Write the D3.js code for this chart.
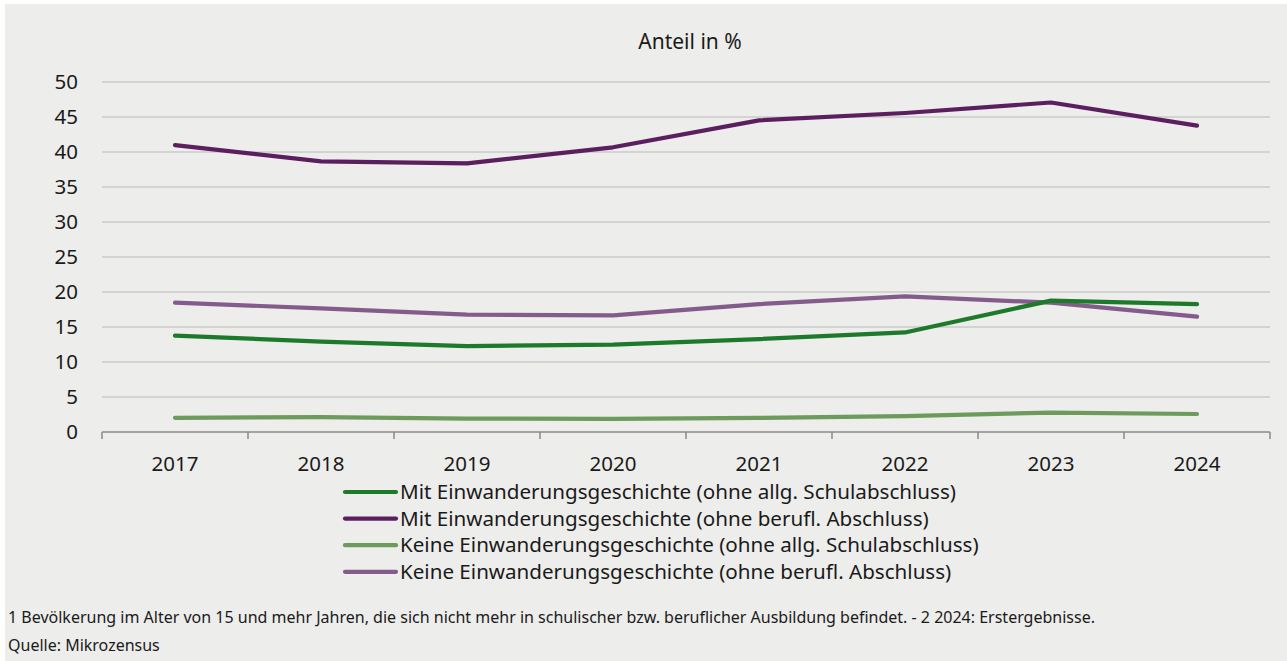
<!DOCTYPE html>
<html>
<head>
<meta charset="utf-8">
<script src="https://cdn.jsdelivr.net/npm/d3@7"></script>
<style>
    body { margin: 0; background: #ffffff; }
    svg { display: block; font-family: 'Noto Sans', sans-serif; }
</style>
</head>
<body>
<svg class="main" width="1287" height="661"></svg>
<script>
const years = ['2017', '2018', '2019', '2020', '2021', '2022', '2023', '2024'];
const yTicks = [0, 5, 10, 15, 20, 25, 30, 35, 40, 45, 50];

const mitAllg = [13.7, 12.85, 12.2, 12.4, 13.2, 14.15, 18.7, 18.2];
const mitBerufl = [40.9, 38.6, 38.3, 40.6, 44.45, 45.5, 47.0, 43.7];
const keineAllg = [1.95, 2.05, 1.85, 1.8, 1.95, 2.2, 2.7, 2.5];
const keineBerufl = [18.4, 17.6, 16.7, 16.6, 18.2, 19.3, 18.4, 16.4];

const seriesNames = [
    'Mit Einwanderungsgeschichte (ohne allg. Schulabschluss)',
    'Mit Einwanderungsgeschichte (ohne berufl. Abschluss)',
    'Keine Einwanderungsgeschichte (ohne allg. Schulabschluss)',
    'Keine Einwanderungsgeschichte (ohne berufl. Abschluss)'
];
const seriesColors = ['#1d7a2b', '#5b1f5f', '#6d9b5c', '#845c8c'];

const title = 'Anteil in %';
const footnote = '1 Bevölkerung im Alter von 15 und mehr Jahren, die sich nicht mehr in schulischer bzw. beruflicher Ausbildung befindet. - 2 2024: Erstergebnisse.';
const source = 'Quelle: Mikrozensus';

const series = [mitAllg, mitBerufl, keineAllg, keineBerufl].map((values, i) => ({
    name: seriesNames[i],
    color: seriesColors[i],
    values: values.map((v, j) => ({ year: years[j], amount: v }))
}));

const svg = d3.select('svg.main'),
    margin = { top: 81.5, left: 102, right: 17, bottom: 229.5 },
    width = 1287 - margin.left - margin.right,
    height = 661 - margin.top - margin.bottom;

// panel background
svg.append('rect')
    .attr('x', 5)
    .attr('y', 4)
    .attr('width', 1282)
    .attr('height', 657)
    .attr('fill', '#ededeb');

const x = d3.scaleBand().domain(years).range([0, width]),
    y = d3.scaleLinear().domain([0, 50]).range([height, 0]);

const chart = svg.append('g')
    .attr('transform', 'translate(' + margin.left + ',' + margin.top + ')');

// gridlines
chart.append('g')
    .selectAll('line')
    .data(yTicks.filter(t => t > 0))
    .enter()
    .append('line')
    .attr('x1', 0)
    .attr('x2', width)
    .attr('y1', d => Math.round(y(d)) + 0.5)
    .attr('y2', d => Math.round(y(d)) + 0.5)
    .attr('stroke', '#b9b9b9')
    .attr('stroke-width', 1.2);

// y labels
chart.append('g')
    .selectAll('text')
    .data(yTicks)
    .enter()
    .append('text')
    .text(d => d)
    .attr('x', -24)
    .attr('y', d => y(d))
    .attr('dy', '0.35em')
    .attr('text-anchor', 'end')
    .attr('font-size', 20.5)
    .attr('fill', '#1a1a1a');

// x axis
const xAxis = chart.append('g')
    .attr('transform', 'translate(0,' + (Math.round(height) + 0.5) + ')');

xAxis.append('line')
    .attr('x1', 0)
    .attr('x2', width)
    .attr('stroke', '#8a8a8a')
    .attr('stroke-width', 1.5);

xAxis.selectAll('line.tick')
    .data(years.concat(['end']))
    .enter()
    .append('line')
    .classed('tick', true)
    .attr('x1', (d, i) => i * x.bandwidth())
    .attr('x2', (d, i) => i * x.bandwidth())
    .attr('y1', 0)
    .attr('y2', 7)
    .attr('stroke', '#8a8a8a')
    .attr('stroke-width', 1.5);

xAxis.selectAll('text')
    .data(years)
    .enter()
    .append('text')
    .text(d => d)
    .attr('x', d => x(d) + x.bandwidth() / 2)
    .attr('y', 39)
    .attr('text-anchor', 'middle')
    .attr('font-size', 20.5)
    .attr('fill', '#1a1a1a');

// lines
const line = d3.line()
    .x(d => x(d.year) + x.bandwidth() / 2)
    .y(d => y(d.amount));

chart.append('g')
    .selectAll('path')
    .data(series.slice().reverse())
    .enter()
    .append('path')
    .attr('d', d => line(d.values))
    .attr('fill', 'none')
    .attr('stroke', d => d.color)
    .attr('stroke-width', 4.2)
    .attr('stroke-linecap', 'round')
    .attr('stroke-linejoin', 'round');

// title
svg.append('text')
    .text(title)
    .attr('x', 690)
    .attr('y', 49)
    .attr('text-anchor', 'middle')
    .attr('font-size', 21)
    .attr('fill', '#1a1a1a');

// legend
const legend = svg.append('g')
    .attr('transform', 'translate(343,492)');

const items = legend.selectAll('g')
    .data(series)
    .enter()
    .append('g')
    .attr('transform', (d, i) => 'translate(0,' + (i * 26.6) + ')');

items.append('line')
    .attr('x1', 2)
    .attr('x2', 53)
    .attr('stroke', d => d.color)
    .attr('stroke-width', 4.2)
    .attr('stroke-linecap', 'round');

items.append('text')
    .text(d => d.name)
    .attr('x', 57)
    .attr('dy', '0.35em')
    .attr('font-size', 20.6)
    .attr('fill', '#1a1a1a');

// footer
svg.append('text')
    .text(footnote)
    .attr('x', 8)
    .attr('y', 623)
    .attr('font-size', 16)
    .attr('fill', '#1a1a1a');

svg.append('text')
    .text(source)
    .attr('x', 8)
    .attr('y', 651)
    .attr('font-size', 16)
    .attr('fill', '#1a1a1a');
</script>
</body>
</html>
